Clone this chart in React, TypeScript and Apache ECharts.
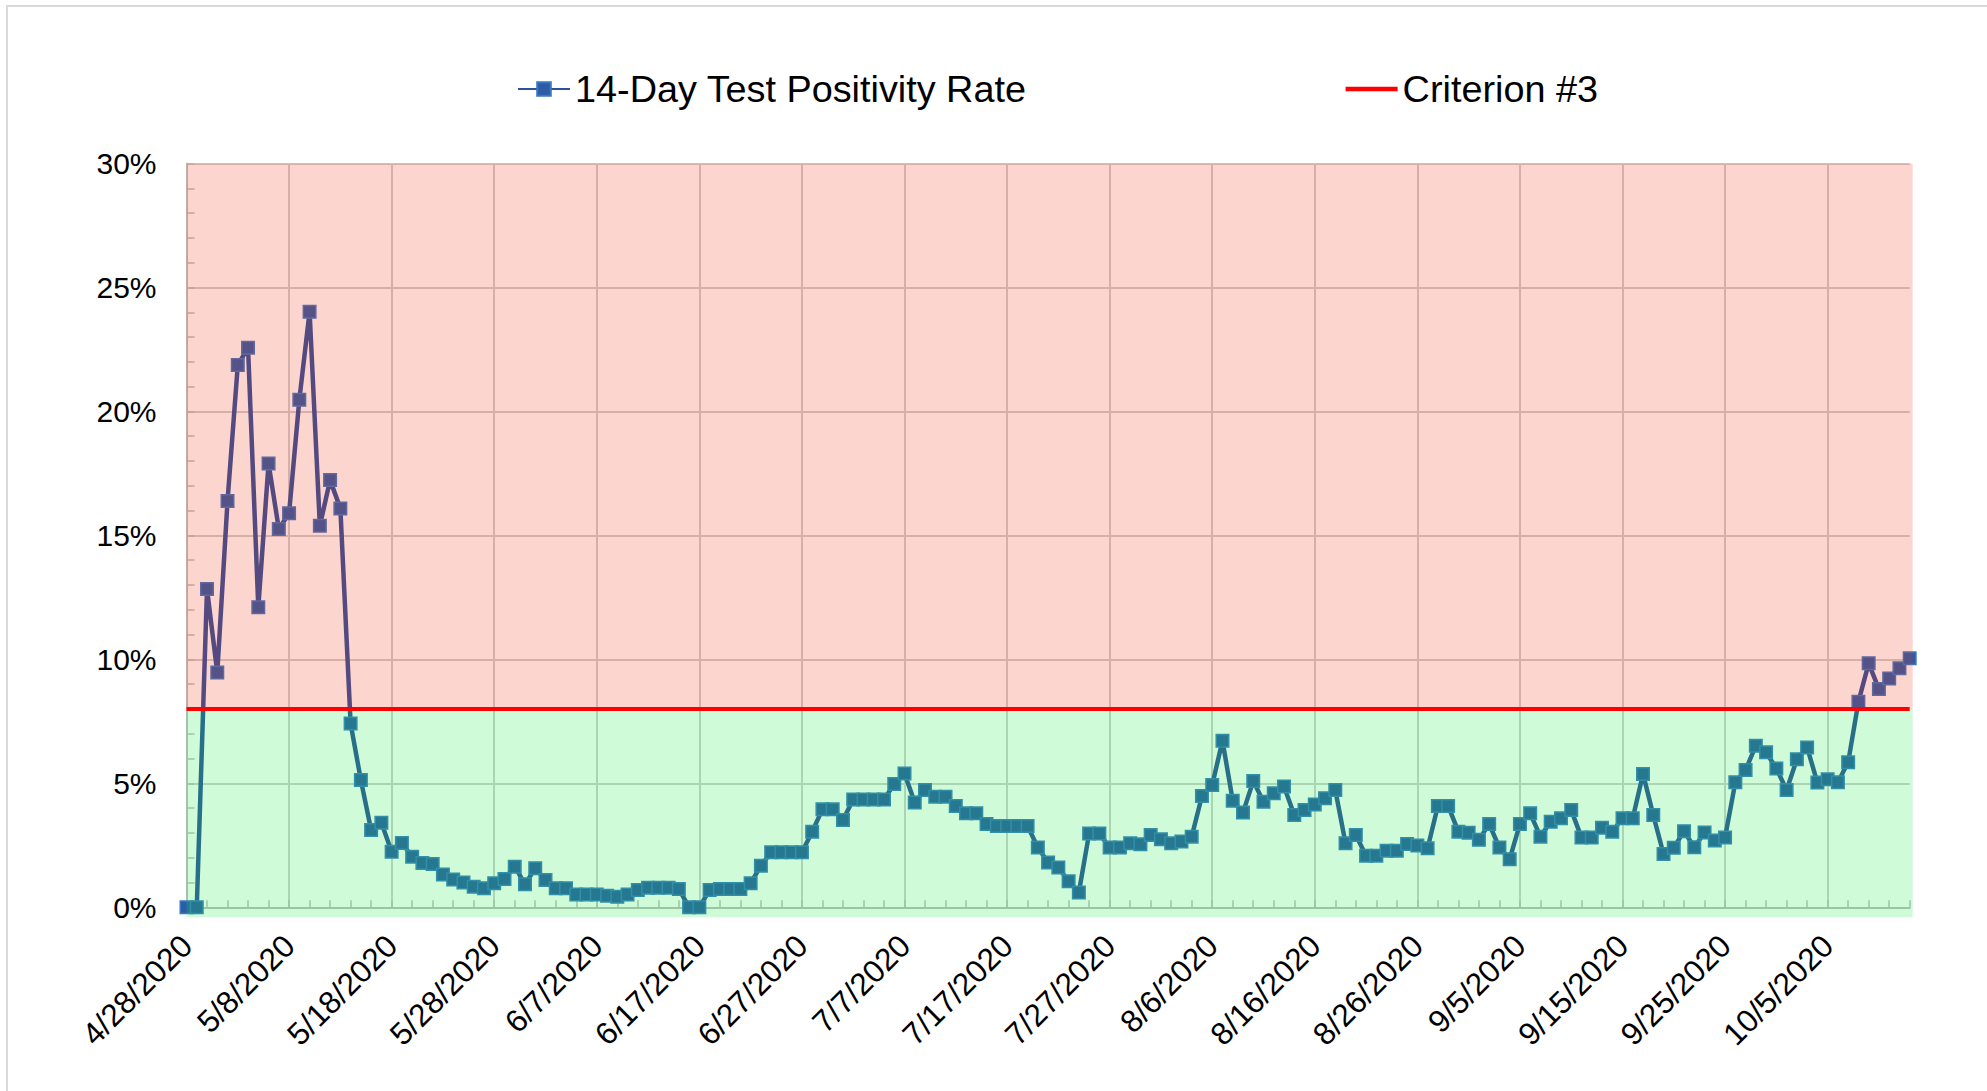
import React, { useEffect, useRef } from "react";
import * as echarts from "echarts";

// ---- data ----
const START_DATE = { year: 2020, month: 4, day: 28 };
const DAY_COUNT = 169;

function buildDates(): string[] {
  const out: string[] = [];
  const base = Date.UTC(START_DATE.year, START_DATE.month - 1, START_DATE.day);
  for (let i = 0; i < DAY_COUNT; i++) {
    const d = new Date(base + i * 86400000);
    out.push(`${d.getUTCMonth() + 1}/${d.getUTCDate()}/${d.getUTCFullYear()}`);
  }
  return out;
}
const DATES = buildDates();

// 14-day test positivity rate, percent
const POSITIVITY = [
  0, 0, 12.84, 9.47, 16.39, 21.87, 22.57, 12.1, 17.9, 15.26,
  15.89, 20.47, 24.02, 15.39, 17.23, 16.09, 7.41, 5.13, 3.12, 3.41,
  2.24, 2.59, 2.04, 1.79, 1.75, 1.32, 1.12, 1.0, 0.83, 0.77,
  0.97, 1.14, 1.64, 0.93, 1.57, 1.1, 0.77, 0.77, 0.52, 0.52,
  0.52, 0.47, 0.43, 0.52, 0.7, 0.79, 0.79, 0.79, 0.74, 0,
  0, 0.7, 0.74, 0.74, 0.74, 0.97, 1.68, 2.22, 2.22, 2.22,
  2.22, 3.05, 3.95, 3.95, 3.52, 4.35, 4.35, 4.35, 4.35, 4.97,
  5.4, 4.23, 4.73, 4.46, 4.46, 4.09, 3.79, 3.79, 3.36, 3.28,
  3.28, 3.28, 3.28, 2.41, 1.81, 1.61, 1.05, 0.6, 2.98, 2.98,
  2.41, 2.41, 2.58, 2.54, 2.92, 2.74, 2.58, 2.65, 2.85, 4.49,
  4.93, 6.72, 4.3, 3.82, 5.09, 4.26, 4.6, 4.87, 3.72, 3.92,
  4.15, 4.4, 4.73, 2.58, 2.92, 2.08, 2.08, 2.28, 2.28, 2.55,
  2.49, 2.38, 4.09, 4.09, 3.05, 3.01, 2.72, 3.36, 2.41, 1.94,
  3.36, 3.79, 2.85, 3.45, 3.59, 3.92, 2.82, 2.82, 3.21, 3.05,
  3.59, 3.59, 5.38, 3.72, 2.15, 2.4, 3.07, 2.42, 3.02, 2.69,
  2.82, 5.04, 5.54, 6.52, 6.25, 5.6, 4.73, 5.97, 6.45, 5.03,
  5.16, 5.04, 5.85, 8.29, 9.84, 8.8, 9.23, 9.64, 10.04,
];

const CRITERION = 8; // percent
const Y_MIN = 0;
const Y_MAX = 30;
const Y_STEP = 5;
// bands [low, high] in percent: below criterion (green), above (red)
const BANDS = [
  [Y_MIN, CRITERION],
  [CRITERION, Y_MAX],
];

const SERIES_NAME = "14-Day Test Positivity Rate";
const CRITERION_NAME = "Criterion #3";

const BAND_COLORS = ["rgba(15,235,60,0.2)", "rgba(245,45,15,0.2)"];
const FONT = "'Liberation Sans', Arial, Helvetica, sans-serif";

export default function App() {
  const ref = useRef<HTMLDivElement>(null);

  useEffect(() => {
    if (!ref.current) return;
    const chart = echarts.init(ref.current, undefined, { renderer: "svg" });
    const last = DATES.length - 1;
    const gridColor = "#D0D0D0";

    chart.setOption({
      animation: false,
      backgroundColor: "transparent",
      textStyle: { fontFamily: FONT },
      legend: {
        data: [
          { name: SERIES_NAME },
          { name: CRITERION_NAME, icon: "path://M0,0 L52,0 L52,4.5 L0,4.5 Z" },
        ],
        left: 512,
        top: 65,
        itemWidth: 52,
        itemHeight: 17,
        itemGap: 319,
        textStyle: { fontSize: 37.8, color: "#000", fontFamily: FONT },
      },
      grid: { left: 186.5, right: 77.3, top: 163.5, bottom: 183.7 },
      xAxis: {
        type: "category",
        data: DATES,
        boundaryGap: false,
        axisLine: { show: true, lineStyle: { color: "#BDBDBD", width: 2 } },
        axisTick: {
          show: true,
          inside: true,
          interval: 1,
          length: 7,
          lineStyle: { color: "#BDBDBD", width: 1.5 },
        },
        axisLabel: {
          interval: 9,
          rotate: 45,
          fontSize: 31.5,
          color: "#000",
          margin: 33,
          fontFamily: FONT,
        },
        splitLine: {
          show: true,
          interval: 9,
          lineStyle: { color: gridColor, width: 2 },
        },
      },
      yAxis: {
        type: "value",
        min: Y_MIN,
        max: Y_MAX,
        interval: Y_STEP,
        axisLine: { show: true, lineStyle: { color: "#BDBDBD", width: 2 } },
        axisTick: {
          show: true,
          inside: true,
          length: 8,
          lineStyle: { color: "#BDBDBD", width: 1.5 },
        },
        minorTick: {
          show: true,
          splitNumber: 5,
          length: 8,
          lineStyle: { color: "#BDBDBD", width: 1.5 },
        },
        axisLabel: {
          formatter: "{value}%",
          fontSize: 30,
          color: "#000",
          margin: 30,
          fontFamily: FONT,
        },
        splitLine: { show: true, lineStyle: { color: gridColor, width: 2 } },
      },
      series: [
        {
          name: SERIES_NAME,
          type: "line",
          data: POSITIVITY,
          symbol: "rect",
          symbolSize: 12.5,
          showAllSymbol: true,
          lineStyle: { color: "#2D529B", width: 4.5 },
          itemStyle: { color: "#2C5CA6", borderColor: "#3A78C2", borderWidth: 1.5 },
          z: 2,
        },
        {
          name: "bands",
          type: "custom",
          data: BANDS,
          silent: true,
          z: 5,
          renderItem: (params: any, api: any) => {
            const lo = api.value(0);
            const hi = api.value(1);
            const tl = api.coord([0, hi]);
            const br = api.coord([last, lo]);
            const extraBottom = lo === Y_MIN ? 10 : 0;
            return {
              type: "rect",
              shape: {
                x: tl[0],
                y: tl[1],
                width: br[0] - tl[0] + 3,
                height: br[1] - tl[1] + extraBottom,
              },
              style: { fill: BAND_COLORS[params.dataIndex] },
            };
          },
        },
        {
          name: CRITERION_NAME,
          type: "line",
          data: [
            [0, CRITERION],
            [last, CRITERION],
          ],
          symbol: "none",
          lineStyle: { color: "#FF0000", width: 4 },
          itemStyle: { color: "#FF0000" },
          z: 10,
        },
      ],
    });

    return () => chart.dispose();
  }, []);

  return (
    <div
      style={{
        position: "fixed",
        left: 0,
        top: 0,
        width: 1987,
        height: 1091,
        background: "#fff",
        overflow: "hidden",
      }}
    >
      <div
        style={{
          position: "absolute",
          left: 6,
          top: 5,
          width: 2100,
          height: 1200,
          borderLeft: "2px solid #D9D9D9",
          borderTop: "2px solid #D9D9D9",
        }}
      />
      <div
        ref={ref}
        style={{ position: "absolute", left: 0, top: 0, width: 1987, height: 1091 }}
      />
    </div>
  );
}
